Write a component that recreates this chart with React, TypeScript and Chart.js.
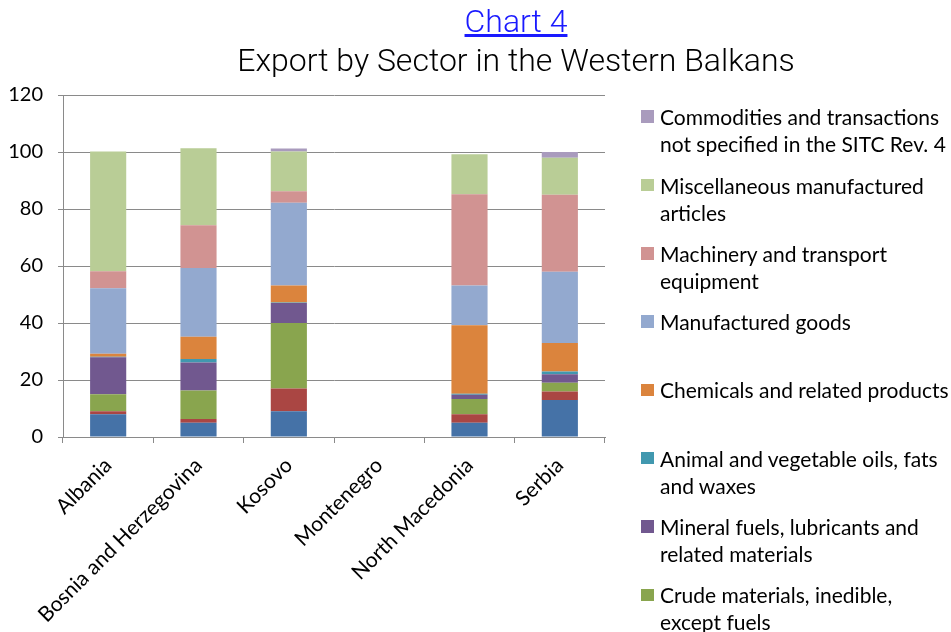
import React, { useEffect, useRef } from "react";
import { Chart, registerables } from "chart.js";

Chart.register(...registerables);

const categories = [
  "Albania",
  "Bosnia and Herzegovina",
  "Kosovo",
  "Montenegro",
  "North Macedonia",
  "Serbia",
];

const seriesNames = [
  "Food and live animals",
  "Beverages and tobacco",
  "Crude materials, inedible, except fuels",
  "Mineral fuels, lubricants and related materials",
  "Animal and vegetable oils, fats and waxes",
  "Chemicals and related products",
  "Manufactured goods",
  "Machinery and transport equipment",
  "Miscellaneous manufactured articles",
  "Commodities and transactions not specified in the SITC Rev. 4",
];

// legend text split in lines as in the reference
const legendLines = [
  ["Food and live animals"],
  ["Beverages and tobacco"],
  ["Crude materials, inedible,", "except fuels"],
  ["Mineral fuels, lubricants and", "related materials"],
  ["Animal and vegetable oils, fats", "and waxes"],
  ["Chemicals and related products"],
  ["Manufactured goods"],
  ["Machinery and transport", "equipment"],
  ["Miscellaneous manufactured", "articles"],
  ["Commodities and transactions", "not specified in the SITC Rev. 4"],
];

const seriesColors = [
  "#4572A7",
  "#AA4643",
  "#89A54E",
  "#71588F",
  "#4198AF",
  "#DB843D",
  "#93A9CF",
  "#D19392",
  "#B9CD96",
  "#A99BBD",
];

// values per series, ordered as categories (Montenegro has no data)
const food = [8, 5, 9, null, 5, 13];
const beverages = [1, 1.3, 8, null, 3, 3];
const crude = [6, 10, 23, null, 5.3, 3];
const mineralFuels = [13, 9.8, 7, null, 1.5, 3];
const oils = [0.2, 1.3, 0.2, null, 0.4, 1];
const chemicals = [1, 7.8, 6, null, 24, 10];
const manufactured = [23, 24.1, 29, null, 14, 25];
const machinery = [6, 15, 4, null, 32, 27];
const miscellaneous = [42, 27, 14, null, 14, 13];
const commodities = [0, 0, 1, null, 0, 2];

const seriesValues = [
  food,
  beverages,
  crude,
  mineralFuels,
  oils,
  chemicals,
  manufactured,
  machinery,
  miscellaneous,
  commodities,
];

const yTicks = [0, 20, 40, 60, 80, 100, 120];

const labelFont = "Lato, 'Noto Sans', sans-serif";

export default function App() {
  const canvasRef = useRef<HTMLCanvasElement | null>(null);

  useEffect(() => {
    if (!canvasRef.current) return;
    const chart = new Chart(canvasRef.current, {
      type: "bar",
      data: {
        labels: categories,
        datasets: seriesNames.map((name, i) => ({
          label: name,
          data: seriesValues[i],
          backgroundColor: seriesColors[i],
          borderWidth: 0,
          categoryPercentage: 1,
          barPercentage: 0.4,
        })),
      },
      options: {
        responsive: false,
        animation: false,
        layout: { padding: { left: 0, top: 95, right: 346, bottom: 0 } },
        plugins: {
          legend: { display: false },
          title: { display: false },
          tooltip: { enabled: false },
        },
        scales: {
          x: {
            stacked: true,
            afterFit: (scale: any) => {
              scale.height = 195;
            },
            grid: {
              offset: true,
              drawOnChartArea: false,
              drawTicks: true,
              tickLength: 6,
              color: "#8a8a8a",
            },
            border: { color: "#8a8a8a", width: 1 },
            ticks: {
              minRotation: 45,
              maxRotation: 45,
              autoSkip: false,
              padding: 10,
              color: "#000",
              font: { family: labelFont, size: 21 },
            },
          },
          y: {
            stacked: true,
            min: 0,
            max: 120,
            afterFit: (scale: any) => {
              scale.width = 63;
            },
            afterBuildTicks: (scale: any) => {
              scale.ticks = yTicks.map((v) => ({ value: v }));
            },
            grid: {
              color: "#8a8a8a",
              lineWidth: 1,
              drawTicks: true,
              tickLength: 5,
            },
            border: { color: "#8a8a8a", width: 1 },
            ticks: {
              padding: 15,
              color: "#000",
              font: { family: labelFont, size: 20 },
            },
          },
        },
      },
    });
    return () => chart.destroy();
  }, []);

  const legendOrder = seriesNames.map((_, i) => seriesNames.length - 1 - i);

  return (
    <div
      style={{
        position: "absolute",
        left: 0,
        top: 0,
        width: 951,
        height: 632,
        overflow: "hidden",
        background: "#fff",
      }}
    >
      <canvas
        ref={canvasRef}
        width={951}
        height={632}
        style={{ position: "absolute", left: 0, top: 0, width: 951, height: 632 }}
      />
      <div
        style={{
          position: "absolute",
          left: 316,
          width: 400,
          top: 2,
          textAlign: "center",
          fontFamily: "Roboto, sans-serif",
          fontWeight: 300,
          fontSize: 32,
          lineHeight: "38px",
          color: "#1a1aff",
          textDecoration: "underline",
        }}
      >
        Chart 4
      </div>
      <div
        style={{
          position: "absolute",
          left: 116,
          width: 800,
          top: 41,
          textAlign: "center",
          fontFamily: "Roboto, sans-serif",
          fontWeight: 300,
          fontSize: 32,
          lineHeight: "38px",
          color: "#000",
        }}
      >
        Export by Sector in the Western Balkans
      </div>
      {legendOrder.map((si, row) => {
        const cy = 116.7 + row * 68.3;
        return (
          <div key={si}>
            <div
              style={{
                position: "absolute",
                left: 641,
                top: cy - 6.3,
                width: 12.6,
                height: 12.6,
                background: seriesColors[si],
              }}
            />
            <div
              style={{
                position: "absolute",
                left: 660,
                top: cy - 13.5,
                whiteSpace: "nowrap",
                fontFamily: labelFont,
                fontSize: 21,
                lineHeight: "27px",
                color: "#000",
              }}
            >
              {legendLines[si].map((l, k) => (
                <div key={k}>{l}</div>
              ))}
            </div>
          </div>
        );
      })}
    </div>
  );
}
